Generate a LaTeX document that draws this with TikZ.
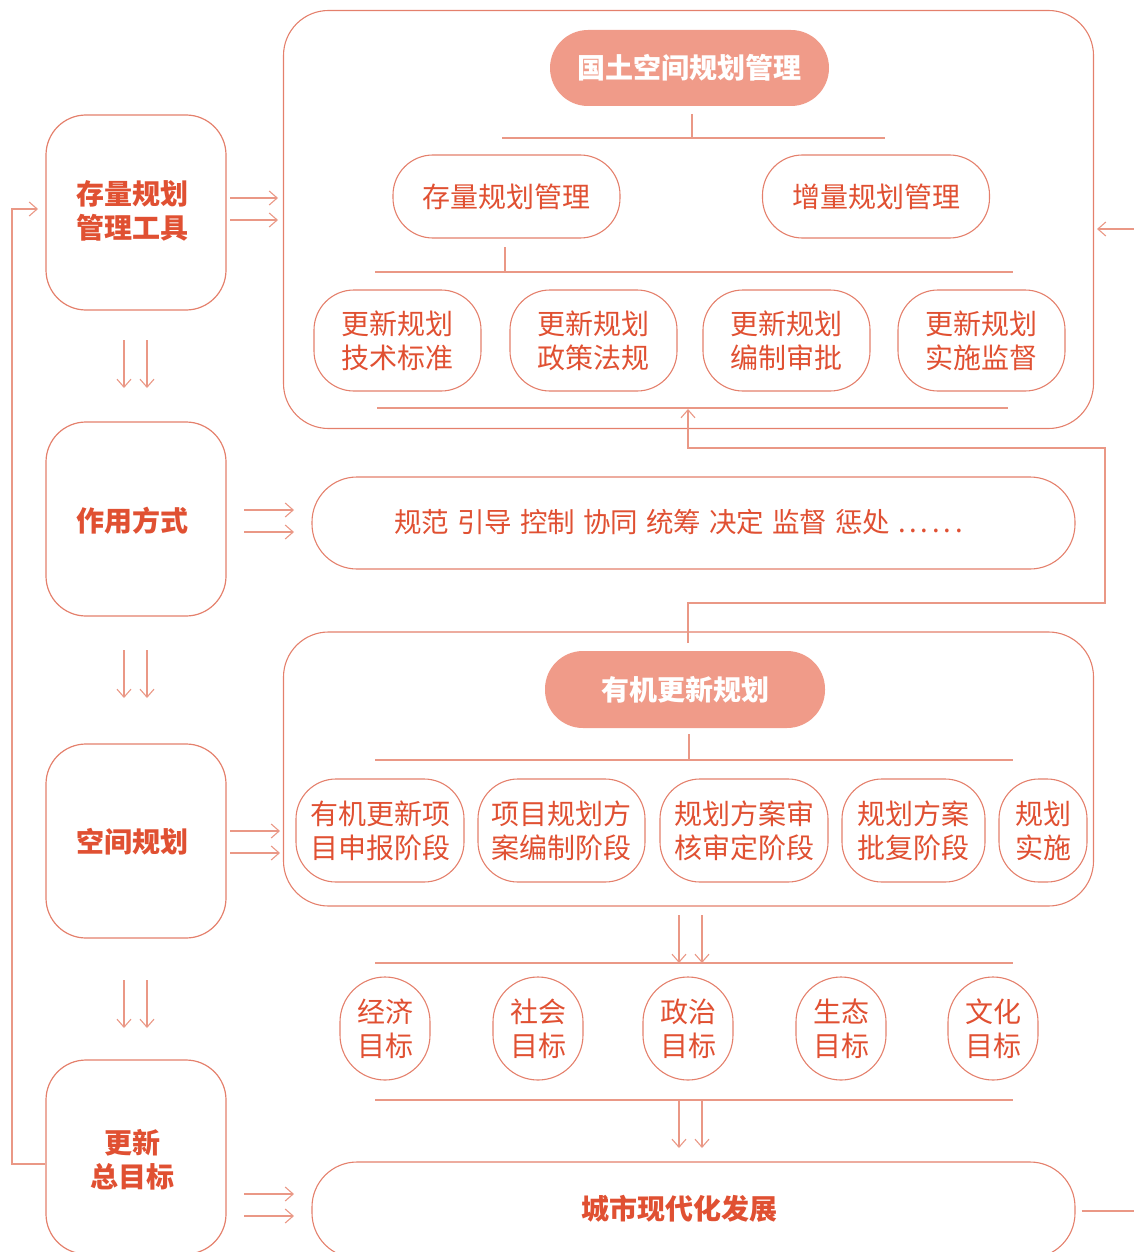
\documentclass[tikz,border=0pt]{standalone}
\usepackage{fontspec}
\setmainfont{Noto Sans CJK SC}
\usetikzlibrary{arrows.meta}
\definecolor{ln}{RGB}{228,128,108}
\definecolor{ln2}{RGB}{234,152,134}
\definecolor{tx}{RGB}{224,80,50}
\definecolor{fl}{RGB}{240,155,137}
\newcommand\mydots{.\kern3.8pt.\kern3.8pt.\kern3.8pt.\kern3.8pt.\kern3.8pt.}
\newcommand\wsp{\hspace{8pt}}
\begin{document}
\begin{tikzpicture}[x=1pt,y=-1pt,
  rbox/.style={draw=ln, line width=1.1pt, rounded corners=40pt, inner sep=0pt,
    text=tx, align=center, font=\fontsize{28}{34}\selectfont},
  lbox/.style={draw=ln, line width=1.2pt, rounded corners=40pt, inner sep=0pt,
    minimum width=180pt, minimum height=194pt},
  ltext/.style={text=tx, align=center, inner sep=0pt,
    font=\fontsize{28}{34}\selectfont\bfseries},
  frame/.style={draw=ln, line width=1.1pt, rounded corners=45pt, inner sep=0pt},
  head/.style={fill=fl, draw=none, rounded corners=38pt, inner sep=0pt,
    text=white, font=\fontsize{28}{34}\selectfont\bfseries},
  bar/.style={draw=ln2, line width=1.2pt},
  arr/.style={draw=ln2, line width=1.1pt, -{Straight Barb[length=8pt,width=14pt]}}]
\useasboundingbox (0,0) rectangle (1134,1252);
\clip (0,0) rectangle (1134,1252);

% ---------- left column ----------
\node[lbox, minimum height=195pt] (L1) at (136,212.5) {};
\node[ltext] (L1t) at (132,211) {存量规划\\管理工具};
\node[lbox] (L2) at (136,519) {};
\node[ltext] (L2t) at (132,521) {作用方式};
\node[lbox] (L3) at (136,841) {};
\node[ltext] (L3t) at (132,842) {空间规划};
\node[lbox] (L4) at (136,1157) {};
\node[ltext] (L4t) at (132,1160) {更新\\总目标};

% down arrows between left boxes
\foreach \a/\b in {340/388, 650/698, 980/1028}{
  \coordinate (da1) at (124,\a); \coordinate (db1) at (124,\b);
  \coordinate (da2) at (147,\a); \coordinate (db2) at (147,\b);
  \draw[arr] (da1) -- (db1);
  \draw[arr] (da2) -- (db2);
}

% feedback loop on the left
\coordinate (fl1) at (12,1164);
\coordinate (fl2) at (12,209);
\coordinate (fl3) at (38,209);
\draw[arr] (L4.west |- fl1) -- (fl1) -- (fl2) -- (fl3);

% ---------- top frame ----------
\node[frame, minimum width=810pt, minimum height=418pt] (T) at (688.5,219.5) {};
\node[head, minimum width=279pt, minimum height=76pt] (G) at (689.5,68) {国土空间规划管理};
\node[rbox, minimum width=227pt, minimum height=83pt] (S1) at (506.5,196.5) {存量规划管理};
\node[rbox, minimum width=227pt, minimum height=83pt] (S2) at (876,196.5) {增量规划管理};
\foreach \n/\x/\t in {U1/397.5/{更新规划\\技术标准}, U2/593.5/{更新规划\\政策法规},
                      U3/786.5/{更新规划\\编制审批}, U4/981.5/{更新规划\\实施监督}}{
  \node[rbox, minimum width=167pt, minimum height=101pt] (\n) at (\x,340.5) {\t};
}
\coordinate (ta) at (692,114); \coordinate (tb) at (692,138);
\coordinate (tl) at (502,138); \coordinate (tr) at (885,138);
\draw[bar] (ta) -- (tb);
\draw[bar] (tl) -- (tr);
\coordinate (sa) at (505,247); \coordinate (sb) at (505,272);
\coordinate (sl) at (375,272); \coordinate (sr) at (1013,272);
\draw[bar] (sa) -- (sb);
\draw[bar] (sl) -- (sr);
\coordinate (ul) at (377,408); \coordinate (ur) at (1008,408);
\draw[bar] (ul) -- (ur);

% stub arrow top right
\coordinate (st1) at (1134,229); \coordinate (st2) at (1097,229);
\draw[arr] (st1) -- (st2);

% arrows from L1
\coordinate (a1s) at (230,198); \coordinate (a1e) at (278,198);
\coordinate (a2s) at (230,220); \coordinate (a2e) at (278,220);
\draw[arr] (a1s) -- (a1e);
\draw[arr] (a2s) -- (a2e);

% ---------- middle ----------
\node[frame, minimum width=763pt, minimum height=92pt] (M) at (693.5,523) {};
\node[text=tx, font=\fontsize{27.5}{30}\selectfont, inner sep=0pt] (Mt) at (678.5,522)
  {规范\wsp 引导\wsp 控制\wsp 协同\wsp 统筹\wsp 决定\wsp 监督\wsp 惩处\wsp \mydots};
\coordinate (b1s) at (244,510); \coordinate (b1e) at (294,510);
\coordinate (b2s) at (244,532); \coordinate (b2e) at (294,532);
\draw[arr] (b1s) -- (b1e);
\draw[arr] (b2s) -- (b2e);

% ---------- lower frame ----------
\node[frame, minimum width=810pt, minimum height=274pt] (B) at (688.5,769) {};
\node[head, minimum width=280pt, minimum height=77pt] (H) at (685,689.5) {有机更新规划};
\foreach \n/\x/\w/\t in {P1/380/168/{有机更新项\\目申报阶段}, P2/561.5/167/{项目规划方\\案编制阶段},
                         P3/744/168/{规划方案审\\核审定阶段}, P4/913.5/143/{规划方案\\批复阶段},
                         P5/1043/88/{规划\\实施}}{
  \node[rbox, minimum width=\w pt, minimum height=103pt] (\n) at (\x,830.5) {\t};
}
\coordinate (ha) at (689,734); \coordinate (hb) at (689,760);
\coordinate (hl) at (375,760); \coordinate (hr) at (1013,760);
\draw[bar] (ha) -- (hb);
\draw[bar] (hl) -- (hr);
\coordinate (c1s) at (230,831); \coordinate (c1e) at (280,831);
\coordinate (c2s) at (230,853); \coordinate (c2e) at (280,853);
\draw[arr] (c1s) -- (c1e);
\draw[arr] (c2s) -- (c2e);

% feedback from lower frame to top frame
\coordinate (f0) at (688,643);
\coordinate (f1) at (688,603);
\coordinate (f2) at (1105,603);
\coordinate (f3) at (1105,448);
\coordinate (f4) at (688,448);
\coordinate (f5) at (688,409);
\draw[arr] (f0) -- (f1) -- (f2) -- (f3) -- (f4) -- (f5);

% ---------- goals ----------
\coordinate (g1s) at (679,915); \coordinate (g1e) at (679,963);
\coordinate (g2s) at (702,915); \coordinate (g2e) at (702,963);
\draw[arr] (g1s) -- (g1e);
\draw[arr] (g2s) -- (g2e);
\coordinate (gl) at (375,963); \coordinate (gr) at (1013,963);
\draw[bar] (gl) -- (gr);
\foreach \n/\x/\t in {Q1/385/{经济\\目标}, Q2/538/{社会\\目标}, Q3/688/{政治\\目标},
                      Q4/841/{生态\\目标}, Q5/993/{文化\\目标}}{
  \node[rbox, rounded corners=45pt, minimum width=90pt, minimum height=103pt] (\n) at (\x,1028.5) {\t};
}
\coordinate (kl) at (375,1100); \coordinate (kr) at (1013,1100);
\draw[bar] (kl) -- (kr);
\coordinate (k1s) at (679,1100); \coordinate (k1e) at (679,1148);
\coordinate (k2s) at (702,1100); \coordinate (k2e) at (702,1148);
\draw[arr] (k1s) -- (k1e);
\draw[arr] (k2s) -- (k2e);

% ---------- bottom ----------
\node[frame, minimum width=763pt, minimum height=96pt] (Z) at (693.5,1210) {};
\node[ltext] (Zt) at (679,1209) {城市现代化发展};
\coordinate (d1s) at (244,1194); \coordinate (d1e) at (294,1194);
\coordinate (d2s) at (244,1216); \coordinate (d2e) at (294,1216);
\draw[arr] (d1s) -- (d1e);
\draw[arr] (d2s) -- (d2e);
\coordinate (ze) at (1134,1211);
\draw[bar] (Z.east |- ze) ++(6,0) -- (ze);
\end{tikzpicture}
\end{document}
